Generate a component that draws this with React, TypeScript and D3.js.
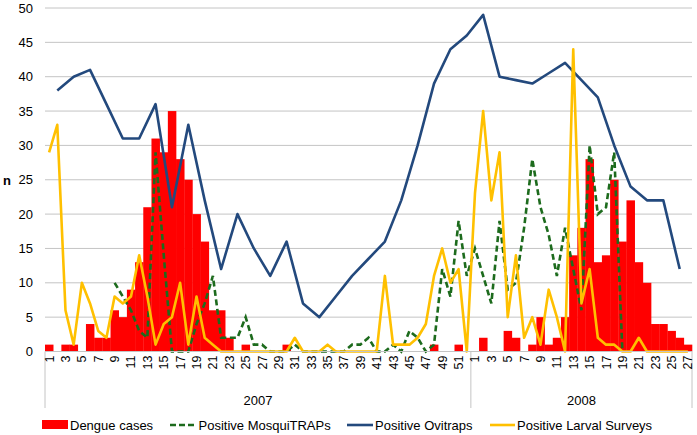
import React from "react";
import * as d3 from "d3";

// ---- data ----
const weeks: number[] = [
  1, 2, 3, 4, 5, 6, 7, 8, 9, 10, 11, 12, 13, 14, 15, 16, 17, 18, 19, 20, 21, 22, 23, 24, 25, 26,
  27, 28, 29, 30, 31, 32, 33, 34, 35, 36, 37, 38, 39, 40, 41, 42, 43, 44, 45, 46, 47, 48, 49, 50, 51, 52,
  1, 2, 3, 4, 5, 6, 7, 8, 9, 10, 11, 12, 13, 14, 15, 16, 17, 18, 19, 20, 21, 22, 23, 24, 25, 26, 27,
];
const yearLabels = ["2007", "2008"];
const yearWeekCounts = [52, 27];

const dengueCases: number[] = [
  // 2007
  1, 0, 1, 1, 0, 4, 2, 2, 6, 5, 9, 13, 21, 31, 29, 35, 28, 25, 20, 16, 6, 6, 2, 0, 1, 0,
  0, 0, 0, 1, 0, 0, 0, 0, 0, 0, 0, 0, 0, 0, 0, 0, 0, 0, 0, 0, 0, 1, 0, 0, 1, 0,
  // 2008
  0, 2, 0, 0, 3, 2, 0, 1, 5, 1, 2, 5, 14, 18, 28, 13, 14, 25, 16, 22, 13, 10, 4, 4, 3, 2, 1,
];

const mosquiTraps: (number | null)[] = [
  // 2007
  null, null, null, null, null, null, null, null, 10, 8, 6, 3, 2, 29, 14, 0, 0, 0, 4, 7, 11, 2, 2, 2, 5, 1,
  1, 0, 0, 0, 1, 0, 0, 0, 0, 0, 0, 1, 1, 2, 0, 0, 1, 0, 3, 2, 0, 1, 12, 8, 19, 11,
  // 2008
  15, 11, 7, 19, 9, 10, 18, 28, 21, 17, 11, 18, 12, 6, 30, 20, 21, 29, 0, null, null, null, null, null, null, null, null,
];

const ovitraps: (number | null)[] = [
  // 2007
  null, 38, null, 40, null, 41, null, 36, null, 31, null, 31, null, 36, null, 21, null, 33, null, 22, null, 12, null, 20, null, 15,
  null, 11, null, 16, null, 7, null, 5, null, 8, null, 11, null, 13.5, null, 16, null, 22, null, 30, null, 39, null, 44, null, 46,
  // 2008
  null, 49, null, 40, null, 39.5, null, 39, null, 40.5, null, 42, null, 39.5, null, 37, null, 30, null, 24, null, 22, null, 22, null, 12, null,
];

const larvalSurveys: number[] = [
  // 2007
  29, 33, 6, 1, 10, 7, 3, 2, 8, 7, 8, 14, 8, 1, 4, 5, 10, 1, 8, 2, 1, 0, 0, 0, 0, 0,
  0, 0, 0, 0, 2, 0, 0, 0, 1, 0, 0, 0, 0, 0, 0, 11, 1, 1, 1, 2, 4, 11, 15, 10, 12, 0,
  // 2008
  23, 35, 22, 29, 5, 14, 2, 5, 1, 9, 5, 0, 44, 7, 12, 2, 1, 1, 0, 0, 2, 0, 0, 0, 0, 0, 0,
];

const yTicks = [0, 5, 10, 15, 20, 25, 30, 35, 40, 45, 50];
const legendItems = ["Dengue cases", "Positive MosquiTRAPs", "Positive Ovitraps", "Positive Larval Surveys"];

// ---- layout ----
const W = 697;
const H = 435;
const left = 45;
const right = 692;
const top = 8;
const bottom = 351.5;
const font = "'Liberation Sans', Arial, sans-serif";

const RED = "#ff0000";
const GREEN = "#1d6b1d";
const BLUE = "#23497d";
const GOLD = "#ffc000";
const GRID = "#c4c4c4";

export default function App() {
  const idx = d3.range(weeks.length);
  const x = d3.scaleBand<number>().domain(idx).range([left, right]).padding(0);
  const y = d3.scaleLinear().domain([0, 50]).range([bottom, top]);
  const bw = x.bandwidth();
  const cx = (i: number) => (x(i) as number) + bw / 2;

  const toPts = (arr: (number | null)[]) =>
    arr.map((v, i) => [i, v] as [number, number | null]).filter((d) => d[1] != null) as [number, number][];

  const line = d3
    .line<[number, number]>()
    .x((d) => cx(d[0]))
    .y((d) => y(d[1]));

  // year group boundaries
  const boundaries: number[] = [0];
  yearWeekCounts.forEach((c, k) => boundaries.push(boundaries[k] + c));
  const bx = (b: number) => (b >= weeks.length ? right : (x(b) as number));

  return (
    <svg width={W} height={H} style={{ position: "absolute", left: 0, top: 0, background: "#fff" }}>
      {/* gridlines */}
      {yTicks.map((t) => (
        <line key={"g" + t} x1={left} x2={right} y1={y(t)} y2={y(t)} stroke={GRID} strokeWidth={1} />
      ))}
      {/* y tick labels */}
      {yTicks.map((t) => (
        <text key={"yl" + t} x={33} y={y(t) + 4.5} textAnchor="end" fontFamily={font} fontSize={13} fill="#000">
          {t}
        </text>
      ))}
      <text x={3} y={185} fontFamily={font} fontSize={13} fontWeight="bold" fill="#000">
        n
      </text>

      {/* bars */}
      {dengueCases.map((v, i) =>
        v > 0 ? (
          <rect key={"b" + i} x={x(i)} y={y(v)} width={bw + 0.3} height={y(0) - y(v)} fill={RED} />
        ) : null
      )}

      {/* lines */}
      <path d={line(toPts(mosquiTraps)) || ""} fill="none" stroke={GREEN} strokeWidth={2.6} strokeDasharray="6,3.5" />
      <path d={line(toPts(ovitraps)) || ""} fill="none" stroke={BLUE} strokeWidth={2.6} strokeLinejoin="round" />
      <path d={line(toPts(larvalSurveys)) || ""} fill="none" stroke={GOLD} strokeWidth={2.6} strokeLinejoin="round" />

      {/* x axis */}
      <line x1={left} x2={right} y1={bottom} y2={bottom} stroke={GRID} strokeWidth={1} />
      {boundaries.map((b, k) => (
        <line key={"sep" + k} x1={bx(b)} x2={bx(b)} y1={bottom} y2={408} stroke={GRID} strokeWidth={1} />
      ))}
      {weeks.map((w, i) =>
        w % 2 === 1 ? (
          <text
            key={"xl" + i}
            transform={`translate(${cx(i) + 4.5},${bottom + 4}) rotate(-90)`}
            textAnchor="end"
            fontFamily={font}
            fontSize={12.5}
            fill="#000"
          >
            {w}
          </text>
        ) : null
      )}
      {yearLabels.map((yl, k) => (
        <text
          key={"yr" + k}
          x={(bx(boundaries[k]) + bx(boundaries[k + 1])) / 2}
          y={405}
          textAnchor="middle"
          fontFamily={font}
          fontSize={13}
          fill="#000"
        >
          {yl}
        </text>
      ))}

      {/* legend */}
      <g fontFamily={font} fontSize={13} fill="#000">
        <rect x={42} y={420} width={26} height={9} fill={RED} />
        <text x={70} y={429.5}>{legendItems[0]}</text>
        <line x1={170} x2={197} y1={425} y2={425} stroke={GREEN} strokeWidth={2.6} strokeDasharray="6,3" />
        <text x={198.5} y={429.5}>{legendItems[1]}</text>
        <line x1={347} x2={373} y1={425} y2={425} stroke={BLUE} strokeWidth={2.6} />
        <text x={375} y={429.5}>{legendItems[2]}</text>
        <line x1={490} x2={515} y1={425} y2={425} stroke={GOLD} strokeWidth={2.6} />
        <text x={517} y={429.5}>{legendItems[3]}</text>
      </g>
    </svg>
  );
}
